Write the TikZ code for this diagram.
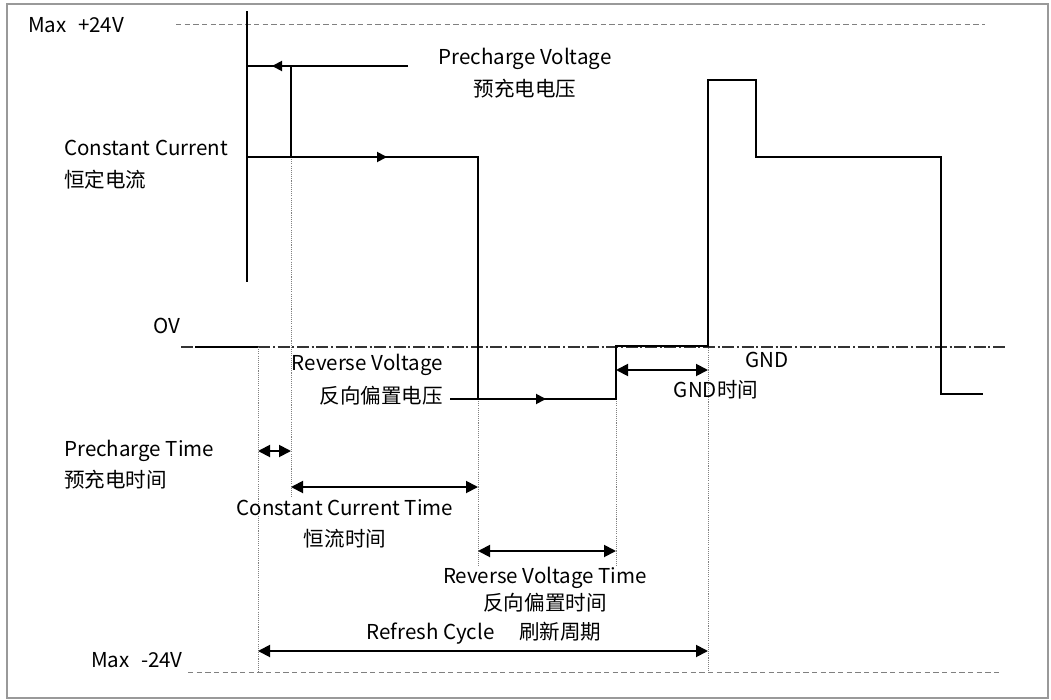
\documentclass[tikz,border=0pt]{standalone}
\usepackage{fontspec}
\setmainfont{Noto Sans CJK SC}
\usetikzlibrary{arrows.meta,positioning}

\begin{document}
\begin{tikzpicture}[
    x=0.75pt, y=-0.75pt,
    sig/.style={line width=1.4pt, line join=miter},
    midarr/.style={sig, -{Triangle[length=7.5pt,width=7.5pt]}},
    dimarr/.style={line width=1.4pt, {Triangle[length=9pt,width=9pt]}-{Triangle[length=9pt,width=9pt]}},
    guide/.style={gray, line width=0.6pt, dash pattern=on 0.8pt off 0.8pt},
    limit/.style={gray, line width=0.75pt, dash pattern=on 4pt off 2.5pt},
    zero/.style={black!80, line width=1pt, dash pattern=on 9pt off 2pt on 1.5pt off 2pt},
    lbl/.style={inner sep=0pt, text height=11pt, text depth=3.5pt, font=\fontsize{15.4}{18}\selectfont}
]
\path[use as bounding box] (0,0) rectangle (1051,700);
\draw[gray!80, line width=1.2pt] (7,4) rectangle (1048,698);

% levels
\coordinate (hiL) at (176,24);
\coordinate (hiR) at (985,24);
\coordinate (loL) at (188,672);
\coordinate (loR) at (1000,672);
\coordinate (zL) at (181,347);
\coordinate (zR) at (1005,347);

% waveform points
\coordinate (axT) at (247,11);
\coordinate (axB) at (247,282);
\coordinate (pvL) at (247,66);
\coordinate (pvA) at (272,66);
\coordinate (pvR) at (408,66);
\coordinate (pcT) at (291,66);
\coordinate (pcB) at (291,157);
\coordinate (ccL) at (247,157);
\coordinate (ccA) at (387,157);
\coordinate (ccR) at (478,157);
\coordinate (rvT) at (478,399);
\coordinate (rvL) at (450,399);
\coordinate (rvA) at (546,399);
\coordinate (rvR) at (616,399);
\coordinate (gnL) at (616,346);
\coordinate (gnR) at (708,346);
\coordinate (p2a) at (708,80);
\coordinate (p2b) at (756,80);
\coordinate (p2c) at (756,157);
\coordinate (p2d) at (941,157);
\coordinate (p2e) at (941,394);
\coordinate (p2f) at (983,394);
\coordinate (z0) at (195,347);
\coordinate (z1) at (258,347);

% guide ends
\coordinate (g1B) at (258,672);
\coordinate (g2B) at (291,497);
\coordinate (g3B) at (478,566);
\coordinate (g4B) at (616,566);
\coordinate (g5B) at (708,672);

% time arrows
\coordinate (ptL) at (258,451);
\coordinate (ptR) at (291,451);
\coordinate (ctL) at (291,487);
\coordinate (ctR) at (478,487);
\coordinate (gtL) at (616,370);
\coordinate (gtR) at (708,370);
\coordinate (rtL) at (478,551);
\coordinate (rtR) at (616,551);
\coordinate (cyL) at (258,651);
\coordinate (cyR) at (708,651);

\draw[limit] (hiL) -- (hiR);
\draw[limit] (loL) -- (loR);
\draw[zero] (zL) -- (zR);

\draw[guide] (z1) -- (g1B);
\draw[guide] (pcB) -- (g2B);
\draw[guide] (rvT) -- (g3B);
\draw[guide] (rvR) -- (g4B);
\draw[guide] (gnR) -- (g5B);

\draw[sig] (axT) -- (axB);
\draw[sig] (pvL) -- (pvR);
\draw[midarr] (pvR) -- (pvA);
\draw[sig] (pcT) -- (pcB);
\draw[sig] (ccL) -- (ccR) -- (rvT);
\draw[midarr] (ccL) -- (ccA);
\draw[sig] (rvL) -- (rvR) -- (gnL) -- (gnR) -- (p2a) -- (p2b) -- (p2c) -- (p2d) -- (p2e) -- (p2f);
\draw[midarr] (rvL) -- (rvA);
\draw[sig] (z0) -- (z1);

\draw[dimarr] (ptL) -- (ptR);
\draw[dimarr] (ctL) -- (ctR);
\draw[dimarr] (gtL) -- (gtR);
\draw[dimarr] (rtL) -- (rtR);
\draw[dimarr] (cyL) -- (cyR);

\node[lbl, anchor=west] (maxhi) at (28,27) {Max\hspace{0.55em}+24V};
\node[lbl] (pv) at (525,59) {Precharge Voltage};
\node[lbl, below=9.5pt of pv] (pvcn) {预充电电压};
\node[lbl, anchor=west] (cc) at (64,150) {Constant Current};
\node[lbl, below=9.5pt of cc.south west, anchor=north west] (cccn) {恒定电流};
\node[lbl] (ov) at (167,328) {OV};
\node[lbl, anchor=east] (rv) at (443,365) {Reverse Voltage};
\node[lbl, below=10pt of rv.south east, anchor=north east] (rvcn) {反向偏置电压};
\node[lbl] (gnd) at (767,362) {GND};
\node[lbl] (gndt) at (716,392) {GND时间};
\node[lbl, anchor=west] (pt) at (64,451) {Precharge Time};
\node[lbl, below=8.75pt of pt.south west, anchor=north west] (ptcn) {预充电时间};
\node[lbl] (cct) at (345,510) {Constant Current Time};
\node[lbl, below=9pt of cct] (cctcn) {恒流时间};
\node[lbl] (rvt) at (545,578) {Reverse Voltage Time};
\node[lbl, below=5.75pt of rvt] (rvtcn) {反向偏置时间};
\node[lbl] (rc) at (484,634) {Refresh Cycle\hspace{1.2em}刷新周期};
\node[lbl, anchor=east] (maxlo) at (183,662) {Max\hspace{0.55em}-24V};
\end{tikzpicture}
\end{document}
